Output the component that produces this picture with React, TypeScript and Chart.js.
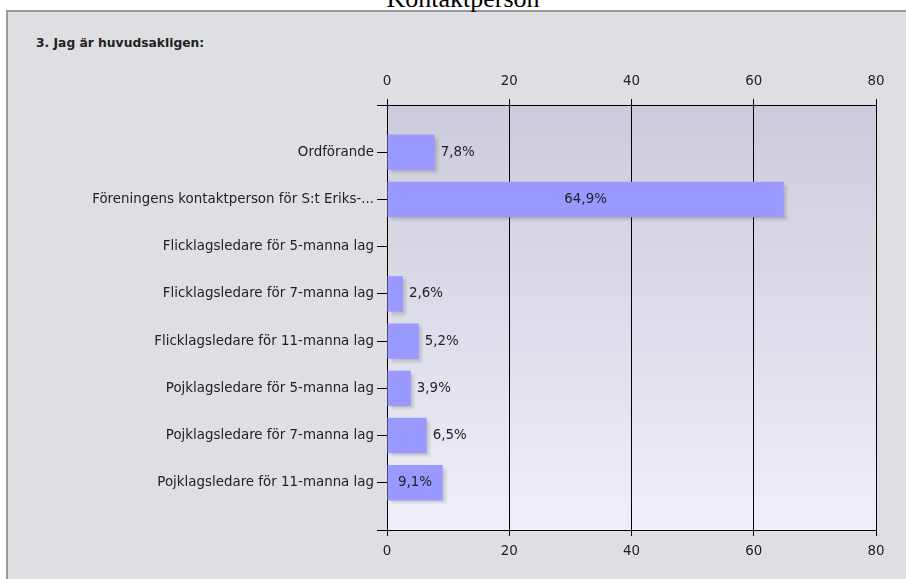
import React, { useEffect, useRef } from "react";
import { Chart, registerables } from "chart.js";

Chart.register(...registerables);

const pageTitle = "Kontaktperson";
const questionTitle = "3. Jag är huvudsakligen:";
const categories = [
  "Ordförande",
  "Föreningens kontaktperson för S:t Eriks-...",
  "Flicklagsledare för 5-manna lag",
  "Flicklagsledare för 7-manna lag",
  "Flicklagsledare för 11-manna lag",
  "Pojklagsledare för 5-manna lag",
  "Pojklagsledare för 7-manna lag",
  "Pojklagsledare för 11-manna lag",
];
const percentValues = [7.8, 64.9, 0, 2.6, 5.2, 3.9, 6.5, 9.1];
const axisMin = 0;
const axisMax = 80;
const axisStep = 20;

const FONT = "'DejaVu Sans', Verdana, sans-serif";
const TEXT = "#222222";
const FONT_SIZE = 13.4;

const plotBackground = {
  id: "plotBackground",
  beforeDraw(chart: any) {
    const { ctx, chartArea } = chart;
    const { left, top, right, bottom } = chartArea;
    const g = ctx.createLinearGradient(0, top, 0, bottom);
    g.addColorStop(0, "#cbcbdb");
    g.addColorStop(1, "#efeff7");
    ctx.save();
    ctx.fillStyle = g;
    ctx.fillRect(left, top, right - left, bottom - top);
    ctx.restore();
  },
};

const barShadowAndLabels = {
  id: "barShadowAndLabels",
  beforeDatasetsDraw(chart: any) {
    const ctx = chart.ctx;
    ctx.save();
    ctx.shadowColor = "rgba(0,0,0,0.16)";
    ctx.shadowOffsetX = 3;
    ctx.shadowOffsetY = 3;
    ctx.shadowBlur = 3;
  },
  afterDatasetsDraw(chart: any) {
    const ctx = chart.ctx;
    ctx.restore();
    const meta = chart.getDatasetMeta(0);
    ctx.save();
    ctx.font = `${FONT_SIZE}px ${FONT}`;
    ctx.fillStyle = TEXT;
    ctx.textBaseline = "middle";
    meta.data.forEach((el: any, i: number) => {
      const v = percentValues[i];
      if (!v) return;
      const text = v.toFixed(1).replace(".", ",") + "%";
      const tw = ctx.measureText(text).width;
      const w = el.x - el.base;
      if (w > tw + 16) {
        ctx.textAlign = "center";
        ctx.fillText(text, (el.x + el.base) / 2, el.y);
      } else {
        ctx.textAlign = "left";
        ctx.fillText(text, el.x + 6, el.y);
      }
    });
    ctx.restore();
  },
};

export default function App() {
  const canvasRef = useRef<HTMLCanvasElement | null>(null);

  useEffect(() => {
    if (!canvasRef.current) return;
    const tickFont = { family: FONT, size: FONT_SIZE };
    const chart = new Chart(canvasRef.current, {
      type: "bar",
      data: {
        datasets: [
          {
            data: percentValues.map((v, i) => ({ x: v, y: i })),
            backgroundColor: "#9999ff",
            borderWidth: 0,
            barPercentage: 0.75,
            categoryPercentage: 1,
          },
        ],
      },
      options: {
        indexAxis: "y",
        animation: false,
        responsive: false,
        maintainAspectRatio: false,
        layout: { padding: { left: 0, right: 30, top: 0, bottom: 0 } },
        plugins: {
          legend: { display: false },
          tooltip: { enabled: false },
          title: { display: false },
        },
        scales: {
          x: {
            type: "linear",
            position: "bottom",
            offset: false,
            min: axisMin,
            max: axisMax,
            ticks: { stepSize: axisStep, font: tickFont, color: TEXT, padding: 7 },
            grid: { color: "#000", lineWidth: 1, tickLength: 6, drawOnChartArea: true, offset: false },
            border: { display: true, color: "#000", width: 1 },
            afterFit(scale: any) {
              scale.height = 49;
            },
          },
          x2: {
            type: "linear",
            axis: "x",
            position: "top",
            offset: false,
            min: axisMin,
            max: axisMax,
            ticks: { stepSize: axisStep, font: tickFont, color: TEXT, padding: 9 },
            grid: { color: "#000", lineWidth: 1, tickLength: 6, drawOnChartArea: false, offset: false },
            border: { display: true, color: "#000", width: 1 },
            afterFit(scale: any) {
              scale.height = 105;
            },
          },
          y: {
            type: "linear",
            reverse: true,
            offset: false,
            min: -1,
            max: categories.length,
            z: 1,
            ticks: {
              stepSize: 1,
              autoSkip: false,
              font: tickFont,
              color: TEXT,
              padding: 3,
              callback: (v: any) => categories[v as number] ?? "",
            },
            grid: { color: "#000", lineWidth: 1, tickLength: 10, drawOnChartArea: false, offset: false },
            border: { display: true, color: "#000", width: 1 },
            afterFit(scale: any) {
              scale.width = 387;
            },
          },
        },
      },
      plugins: [plotBackground, barShadowAndLabels],
    } as any);
    return () => chart.destroy();
  }, []);

  return (
    <div
      style={{
        position: "fixed",
        left: 0,
        top: 0,
        width: 906,
        height: 579,
        overflow: "hidden",
        background: "#ffffff",
      }}
    >
      <div
        style={{
          position: "absolute",
          left: 6,
          top: 10,
          width: 940,
          height: 620,
          background: "#dfdee3",
          borderLeft: "2px solid #9a9a9a",
          borderTop: "2px solid #9a9a9a",
          boxSizing: "border-box",
        }}
      />
      <div
        style={{
          position: "absolute",
          left: 0,
          top: -14,
          width: 926,
          textAlign: "center",
          fontFamily: "'Liberation Serif', 'Times New Roman', serif",
          fontSize: 26,
          lineHeight: "26px",
          color: "#000",
        }}
      >
        {pageTitle}
      </div>
      <div
        style={{
          position: "absolute",
          left: 36,
          top: 35,
          fontFamily: FONT,
          fontWeight: "bold",
          fontSize: 12.3,
          lineHeight: "16px",
          color: TEXT,
        }}
      >
        {questionTitle}
      </div>
      <canvas
        ref={canvasRef}
        width={906}
        height={579}
        style={{ position: "absolute", left: 0, top: 0, width: 906, height: 579 }}
      />
    </div>
  );
}
